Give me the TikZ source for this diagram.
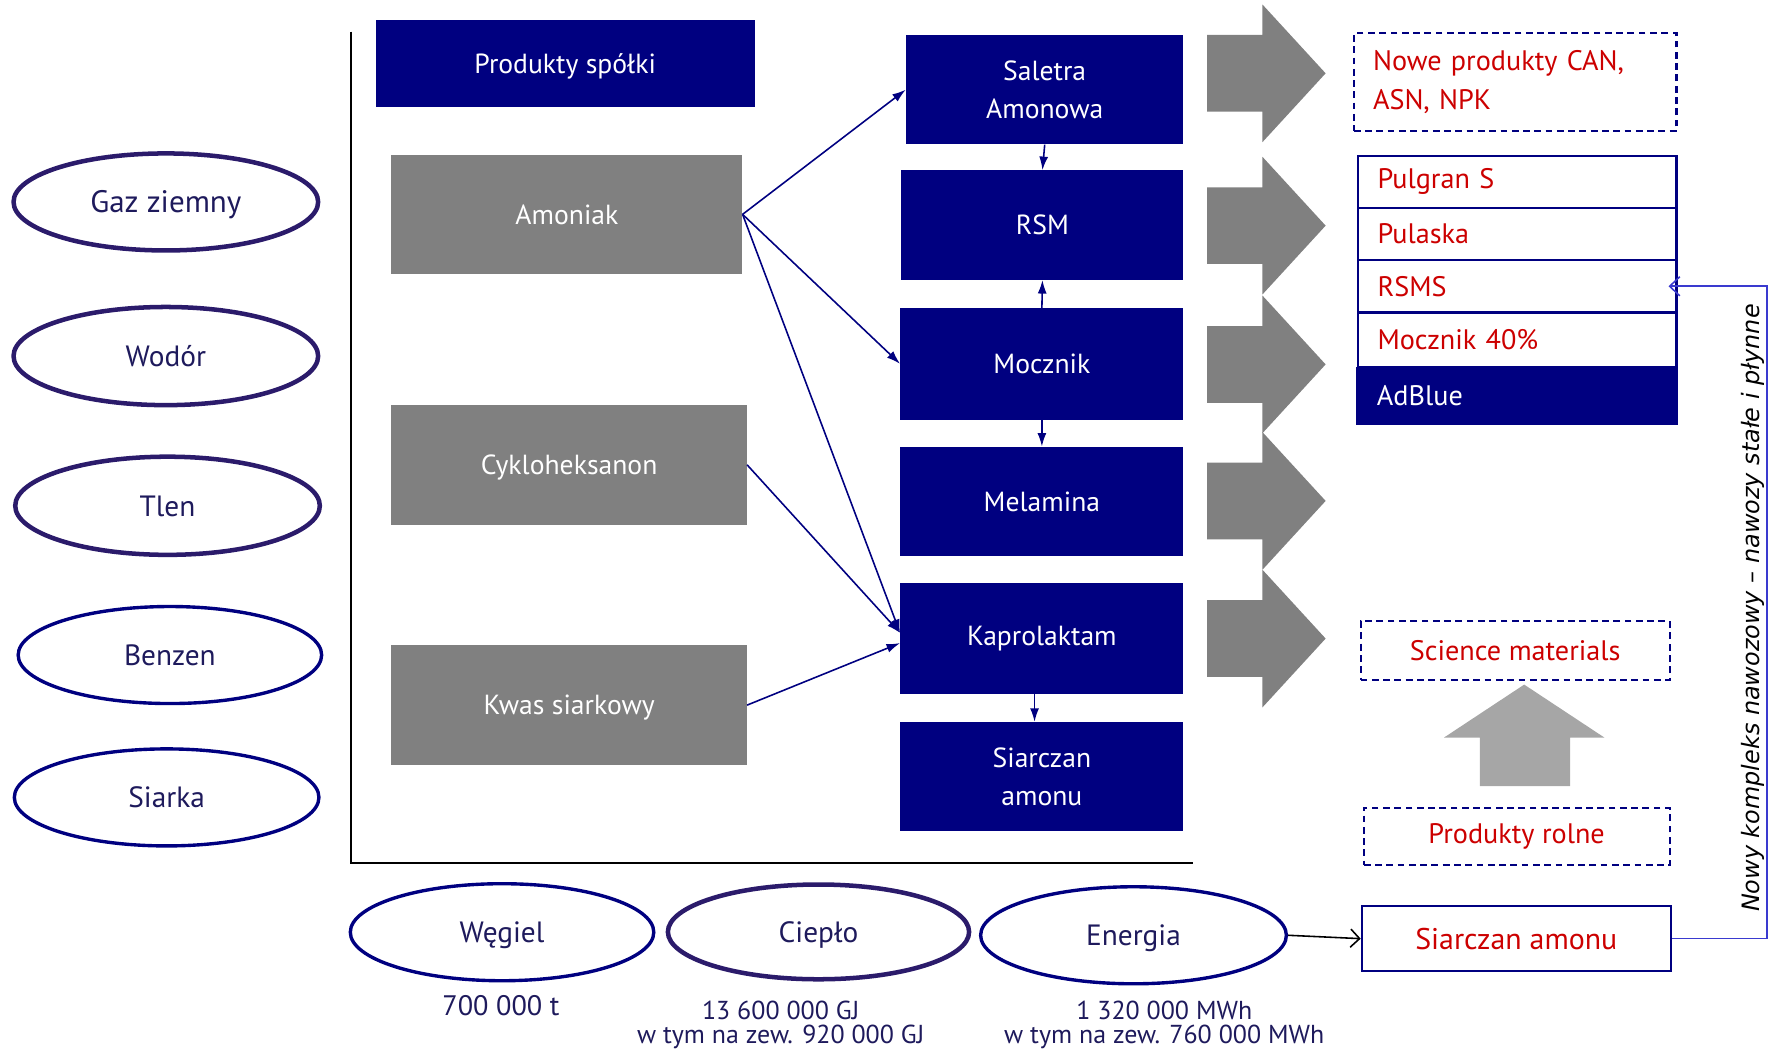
\documentclass[tikz,border=0pt]{standalone}
\usepackage{fontspec}
\setmainfont{PT Sans}
\newfontfamily\rotfont{DejaVu Sans}
\usetikzlibrary{arrows.meta,shapes.geometric}
\definecolor{navyc}{HTML}{000080}
\definecolor{grayc}{HTML}{808080}
\definecolor{lgray}{HTML}{A6A6A6}
\definecolor{redc}{HTML}{CC0000}
\definecolor{inkc}{HTML}{1E1A5C}
\definecolor{purp}{HTML}{2B1B6B}
\definecolor{fbk}{HTML}{3A3ACF}
\tikzset{
  nbox/.style={fill=navyc, text=white, inner sep=0pt, align=center, font=\fontsize{24.5}{34}\selectfont},
  gbox/.style={fill=grayc, text=white, inner sep=0pt, align=center, text depth=0pt, font=\fontsize{24.5}{34}\selectfont},
  ell/.style={ellipse, draw=navyc, line width=3pt, inner sep=0pt, text=inkc, text depth=0pt, font=\fontsize{26}{30}\selectfont},
  ellt/.style={ell, draw=purp, line width=4pt},
  conn/.style={draw=navyc, line width=1.4pt, -{Latex[length=12pt,width=8pt]}},
  dbox/.style={draw=navyc, dash pattern=on 6pt off 4pt, line width=1.8pt, text=redc, inner sep=0pt, font=\fontsize{25}{34}\selectfont},
  rowbox/.style={draw=navyc, line width=1.8pt, text=redc, inner sep=0pt, minimum width=282pt, text width=248pt, align=left, font=\fontsize{25}{29}\selectfont},
  sbox/.style={draw=navyc, line width=1.8pt, text=redc, inner sep=0pt, font=\fontsize{26.5}{30}\selectfont},
  lbl/.style={text=inkc, inner sep=0pt, align=center, font=\fontsize{23}{21}\selectfont},
}
\begin{document}
\begin{tikzpicture}[x=1pt,y=-1pt]
\useasboundingbox (0,0) rectangle (1568,933);
% frame
\draw[black, line width=1.6pt] (311,28) -- (311,765) -- (1057,765);
% left ellipses
\node[ellt, minimum width=270pt, minimum height=86pt, font=\fontsize{27.5}{30}\selectfont] (gaz) at (147,179) {Gaz ziemny};
\node[ellt, minimum width=270pt, minimum height=87pt] (wod) at (147,315.6) {Wodór};
\node[ellt, minimum width=270pt, minimum height=87pt] (tlen) at (148.5,448.3) {Tlen};
\node[ell, minimum width=269pt, minimum height=86pt] (benz) at (150.6,580.6) {Benzen};
\node[ell, minimum width=270pt, minimum height=86pt] (siar) at (147.7,706.8) {Siarka};
% bottom ellipses
\node[ell, minimum width=269pt, minimum height=86pt] (weg) at (445,826.3) {Węgiel};
\node[ellt, minimum width=267pt, minimum height=84pt] (ciep) at (725.5,826) {Ciepło};
\node[ell, minimum width=271pt, minimum height=86pt] (ener) at (1004.7,829) {Energia};
\node[lbl, font=\fontsize{25}{22}\selectfont] (wlab) at (444,891) {700 000 t};
\node[lbl] (clab) at (692,908.5) {13 600 000 GJ\\w tym na zew. 920 000 GJ};
\node[lbl] (elab) at (1032,908.5) {1 320 000 MWh\\w tym na zew. 760 000 MWh};
% left boxes
\node[nbox, text depth=0pt, minimum width=336pt, minimum height=77pt] (prod) at (501,56.5) {Produkty spółki};
\node[gbox, minimum width=311pt, minimum height=106pt] (amon) at (502.5,190) {Amoniak};
\node[gbox, minimum width=315pt, minimum height=106pt] (cykl) at (504.5,412) {Cykloheksanon};
\node[gbox, minimum width=315pt, minimum height=106pt] (kwas) at (504.5,625) {Kwas siarkowy};
% middle boxes
\node[nbox, minimum width=246pt, minimum height=97pt] (sal) at (926,79.5) {Saletra\\Amonowa};
\node[nbox, minimum width=250pt, minimum height=97pt] (rsm) at (924,199.5) {RSM};
\node[nbox, minimum width=251pt, minimum height=99pt] (mocz) at (923.5,322.5) {Mocznik};
\node[nbox, minimum width=251pt, minimum height=97pt] (mel) at (923.5,444.5) {Melamina};
\node[nbox, minimum width=251pt, minimum height=98pt] (kap) at (923.5,566) {Kaprolaktam};
\node[nbox, minimum width=251pt, minimum height=97pt] (sia) at (923.5,688.5) {Siarczan\\amonu};
% connectors
\draw[conn] (amon.east) -- (sal.west);
\draw[conn] (amon.east) -- (mocz.west);
\draw[conn] (amon.east) -- ([yshift=5pt]kap.west);
\draw[conn] (cykl.east) -- ([yshift=5pt]kap.west);
\draw[conn] (kwas.east) -- ([yshift=-4pt]kap.west);
\draw[conn] (sal.south) -- (rsm.north);
\draw[conn] (mocz.north) -- (rsm.south);
\draw[conn] (mocz.south) -- (mel.north);
\draw[conn] ([xshift=-6.5pt]kap.south) -- ([xshift=-6.5pt]sia.north);
% big gray arrows
\foreach \c in {65,200,323,444,566}
  \fill[grayc] (1070,\c-34) -- (1119,\c-34) -- (1119,\c-61) -- (1175,\c) -- (1119,\c+61) -- (1119,\c+34) -- (1070,\c+34) -- cycle;
% right column
\node[dbox, minimum width=286pt, minimum height=86.5pt, text width=252pt, align=left] (nowe) at (1343,72.75) {Nowe produkty CAN,\\ASN, NPK};
\node[rowbox, minimum height=46pt] (pulg) at (1345,161) {Pulgran S};
\node[rowbox, minimum height=46.5pt] (pula) at (1345,207.25) {Pulaska};
\node[rowbox, minimum height=46.5pt] (rsms) at (1345,253.75) {RSMS};
\node[rowbox, minimum height=48pt] (m40) at (1345,301) {Mocznik 40\%};
\node[rowbox, draw=none, fill=navyc, text=white, minimum width=285pt, minimum height=52pt] (adb) at (1344.5,351) {AdBlue};
\node[dbox, minimum width=274pt, minimum height=52pt] (sci) at (1343,576.6) {Science materials};
\node[dbox, minimum width=271pt, minimum height=51pt] (prol) at (1344.3,741.4) {Produkty rolne};
\node[sbox, minimum width=274pt, minimum height=58pt] (sia2) at (1344,832) {Siarczan amonu};
\fill[lgray] (1311.6,696.7) -- (1311.6,653.7) -- (1280,653.7) -- (1351,606.8) -- (1422,653.7) -- (1391.6,653.7) -- (1391.6,696.7) -- cycle;
\draw[black, line width=1.4pt, -{Straight Barb[length=8pt,width=16pt]}] (ener.east) -- (sia2.west);
\draw[fbk, line width=1.4pt, -{Straight Barb[length=9pt,width=17pt]}] (sia2.east) -- ++(84.5,0) |- ([xshift=-8pt]rsms.east);
\node[rotate=90, inner sep=0pt, font=\rotfont\itshape\fontsize{21.2}{24}\selectfont] (vtxt) at (1554,539) {Nowy kompleks nawozowy – nawozy stałe i płynne};
\end{tikzpicture}
\end{document}
